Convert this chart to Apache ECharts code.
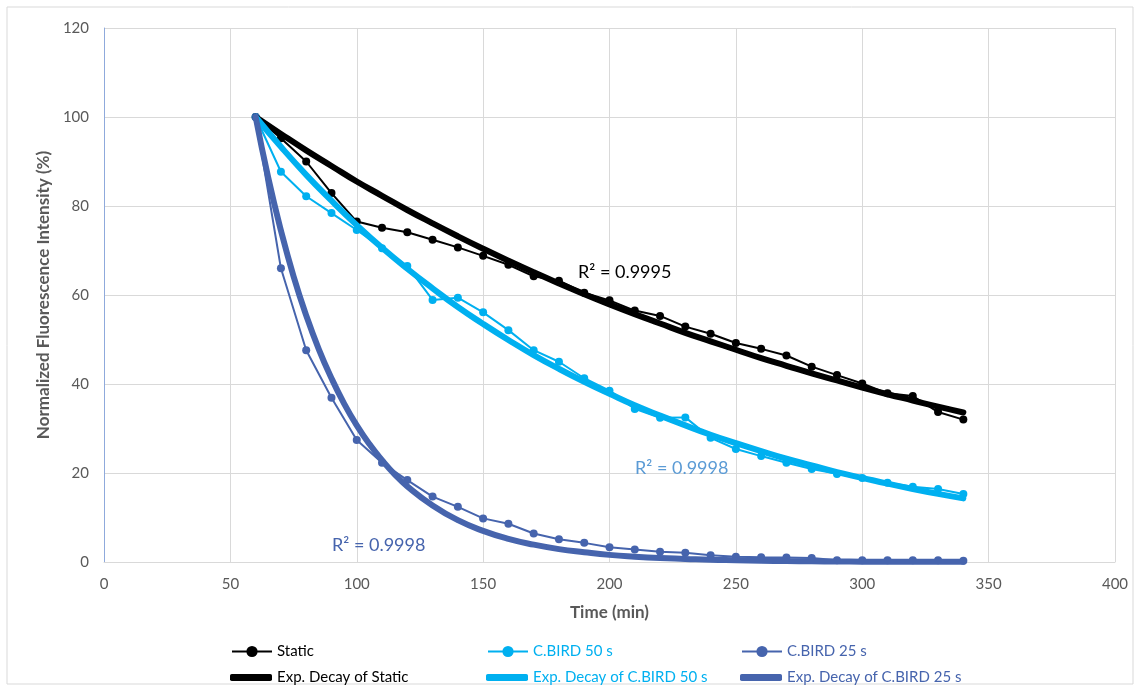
<!DOCTYPE html>
<html><head><meta charset="utf-8">
<script src="https://cdn.jsdelivr.net/npm/echarts@6/dist/echarts.min.js"></script>
<style>html,body{margin:0;padding:0;background:#fff}#c{width:1140px;height:691px}</style>
</head><body><div id="c"></div><script>
// Measured data (Time in min)
const times = [60,70,80,90,100,110,120,130,140,150,160,170,180,190,200,210,220,230,240,250,260,270,280,290,300,310,320,330,340];
const staticVals = [100,95.2,90.0,82.9,76.5,75.1,74.1,72.4,70.7,68.8,66.8,64.2,63.2,60.5,58.8,56.5,55.3,52.9,51.3,49.2,47.9,46.4,43.9,42.0,40.1,37.9,37.3,33.7,32.0];
const bird50Vals = [100,87.7,82.2,78.4,74.6,70.5,66.5,58.9,59.4,56.1,52.1,47.6,45.0,41.3,38.5,34.4,32.4,32.5,27.9,25.4,23.8,22.3,20.9,19.8,18.9,17.8,16.9,16.4,15.3];
const bird25Vals = [100,66.0,47.6,36.9,27.4,22.3,18.4,14.7,12.4,9.8,8.6,6.4,5.1,4.3,3.3,2.8,2.3,2.1,1.5,1.2,1.05,1.0,0.9,0.4,0.4,0.4,0.4,0.4,0.3];

// Trend curves
const fitTimes = [60,70,80,90,100,110,120,130,140,150,160,170,180,190,200,210,220,230,240,250,260,270,280,290,300,310,320,330,340];
const staticFit = [100,96.2,92.5,89.0,85.5,82.3,79.1,76.1,73.2,70.4,67.7,65.1,62.6,60.2,57.9,55.7,53.6,51.5,49.6,47.7,45.8,44.1,42.4,40.8,39.2,37.7,36.3,34.9,33.6];
const bird50Fit = [100,93.3,87.0,81.2,75.7,70.6,65.9,61.5,57.3,53.5,49.9,46.5,43.4,40.5,37.8,35.2,32.9,30.7,28.6,26.7,24.9,23.2,21.7,20.2,18.9,17.6,16.4,15.3,14.3];
const bird25FitTimes = [60,65,70,75,80,85,90,95,100,105,110,115,120,130,140,150,160,170,180,190,200,210,220,230,240,250,260,270,280,290,300,310,320,330,340];
const bird25Fit = [100,86.3,74.5,64.2,55.4,47.8,41.3,35.6,30.7,26.5,22.9,19.7,17.0,12.7,9.4,7.0,5.2,3.9,2.9,2.2,1.6,1.2,0.9,0.7,0.5,0.4,0.3,0.2,0.15,0.1,0.08,0.06,0.05,0.04,0.03];

const xTicks = {min:0, max:400, interval:50};
const yTicks = {min:0, max:120, interval:20};

const names = ['Static','C.BIRD 50 s','C.BIRD 25 s','Exp. Decay of Static','Exp. Decay of C.BIRD 50 s','Exp. Decay of C.BIRD 25 s'];
const colors = {black:'#000000', light:'#00B0F0', dark:'#4664AD'};
const FONT = 'Lato, "Open Sans", sans-serif';

function pairs(xs, ys){ return xs.map((x,i)=>[x, ys[i]]); }

function dataSeries(name, color, xs, ys){
  return {name, type:'line', data:pairs(xs,ys), symbol:'circle', symbolSize:8,
    lineStyle:{color, width:2}, itemStyle:{color}, z:2, animation:false};
}
function fitSeries(name, color, xs, ys){
  return {name, type:'line', data:pairs(xs,ys), symbol:'none', smooth:true,
    lineStyle:{color, width:6, cap:'round'}, itemStyle:{color}, z:3, animation:false};
}

function legendData(left, top, name, color){
  return {left, top, orient:'horizontal', itemWidth:40, itemHeight:14,
    textStyle:{fontFamily:FONT, fontSize:15, color},
    data:[{name}]};
}
function legendFit(left, top, name, color){
  return {left, top, orient:'horizontal', itemWidth:42, itemHeight:7, icon:'roundRect',
    textStyle:{fontFamily:FONT, fontSize:15, color},
    data:[{name}]};
}

const chart = echarts.init(document.getElementById('c'));
chart.setOption({
  backgroundColor:'#fff',
  animation:false,
  grid:{left:104, right:25, top:28, bottom:129, containLabel:false},
  xAxis:{type:'value', min:xTicks.min, max:xTicks.max, interval:xTicks.interval,
    name:'Time (min)', nameLocation:'middle', nameGap:42,
    nameTextStyle:{fontFamily:FONT, fontSize:17, fontWeight:'bold', color:'#595959'},
    axisLine:{show:true, lineStyle:{color:'#D9D9D9'}}, axisTick:{show:false},
    axisLabel:{fontFamily:FONT, fontSize:15, color:'#595959', margin:15},
    splitLine:{show:true, lineStyle:{color:'#D9D9D9'}}},
  yAxis:{type:'value', min:yTicks.min, max:yTicks.max, interval:yTicks.interval,
    name:'Normalized Fluorescence Intensity (%)', nameLocation:'middle', nameGap:50,
    nameTextStyle:{fontFamily:FONT, fontSize:17, fontWeight:'bold', color:'#595959'},
    axisLine:{show:true, lineStyle:{color:'#8FAADC'}}, axisTick:{show:false},
    axisLabel:{fontFamily:FONT, fontSize:15, color:'#595959', margin:15},
    splitLine:{show:true, lineStyle:{color:'#D9D9D9'}}},
  legend:[
    legendData(226, 639, names[0], colors.black),
    legendData(482, 639, names[1], colors.light),
    legendData(736, 639, names[2], colors.dark),
    legendFit(225, 665, names[3], colors.black),
    legendFit(481, 665, names[4], colors.light),
    legendFit(735, 665, names[5], colors.dark)
  ],
  graphic:[
    {type:'rect', shape:{x:7, y:7, width:1126, height:677}, style:{fill:'none', stroke:'#D9D9D9', lineWidth:1}, z:-10, silent:true},
    {type:'text', x:578, y:272, style:{text:'R² = 0.9995', fill:'#000', font:'18px '+FONT, textVerticalAlign:'middle'}, z:10},
    {type:'text', x:635, y:468, style:{text:'R² = 0.9998', fill:'#5B9BD5', font:'18px '+FONT, textVerticalAlign:'middle'}, z:10},
    {type:'text', x:332, y:545, style:{text:'R² = 0.9998', fill:'#4664AD', font:'18px '+FONT, textVerticalAlign:'middle'}, z:10}
  ],
  series:[
    dataSeries(names[0], colors.black, times, staticVals),
    dataSeries(names[1], colors.light, times, bird50Vals),
    dataSeries(names[2], colors.dark, times, bird25Vals),
    fitSeries(names[3], colors.black, fitTimes, staticFit),
    fitSeries(names[4], colors.light, fitTimes, bird50Fit),
    fitSeries(names[5], colors.dark, bird25FitTimes, bird25Fit)
  ]
});
</script></body></html>
